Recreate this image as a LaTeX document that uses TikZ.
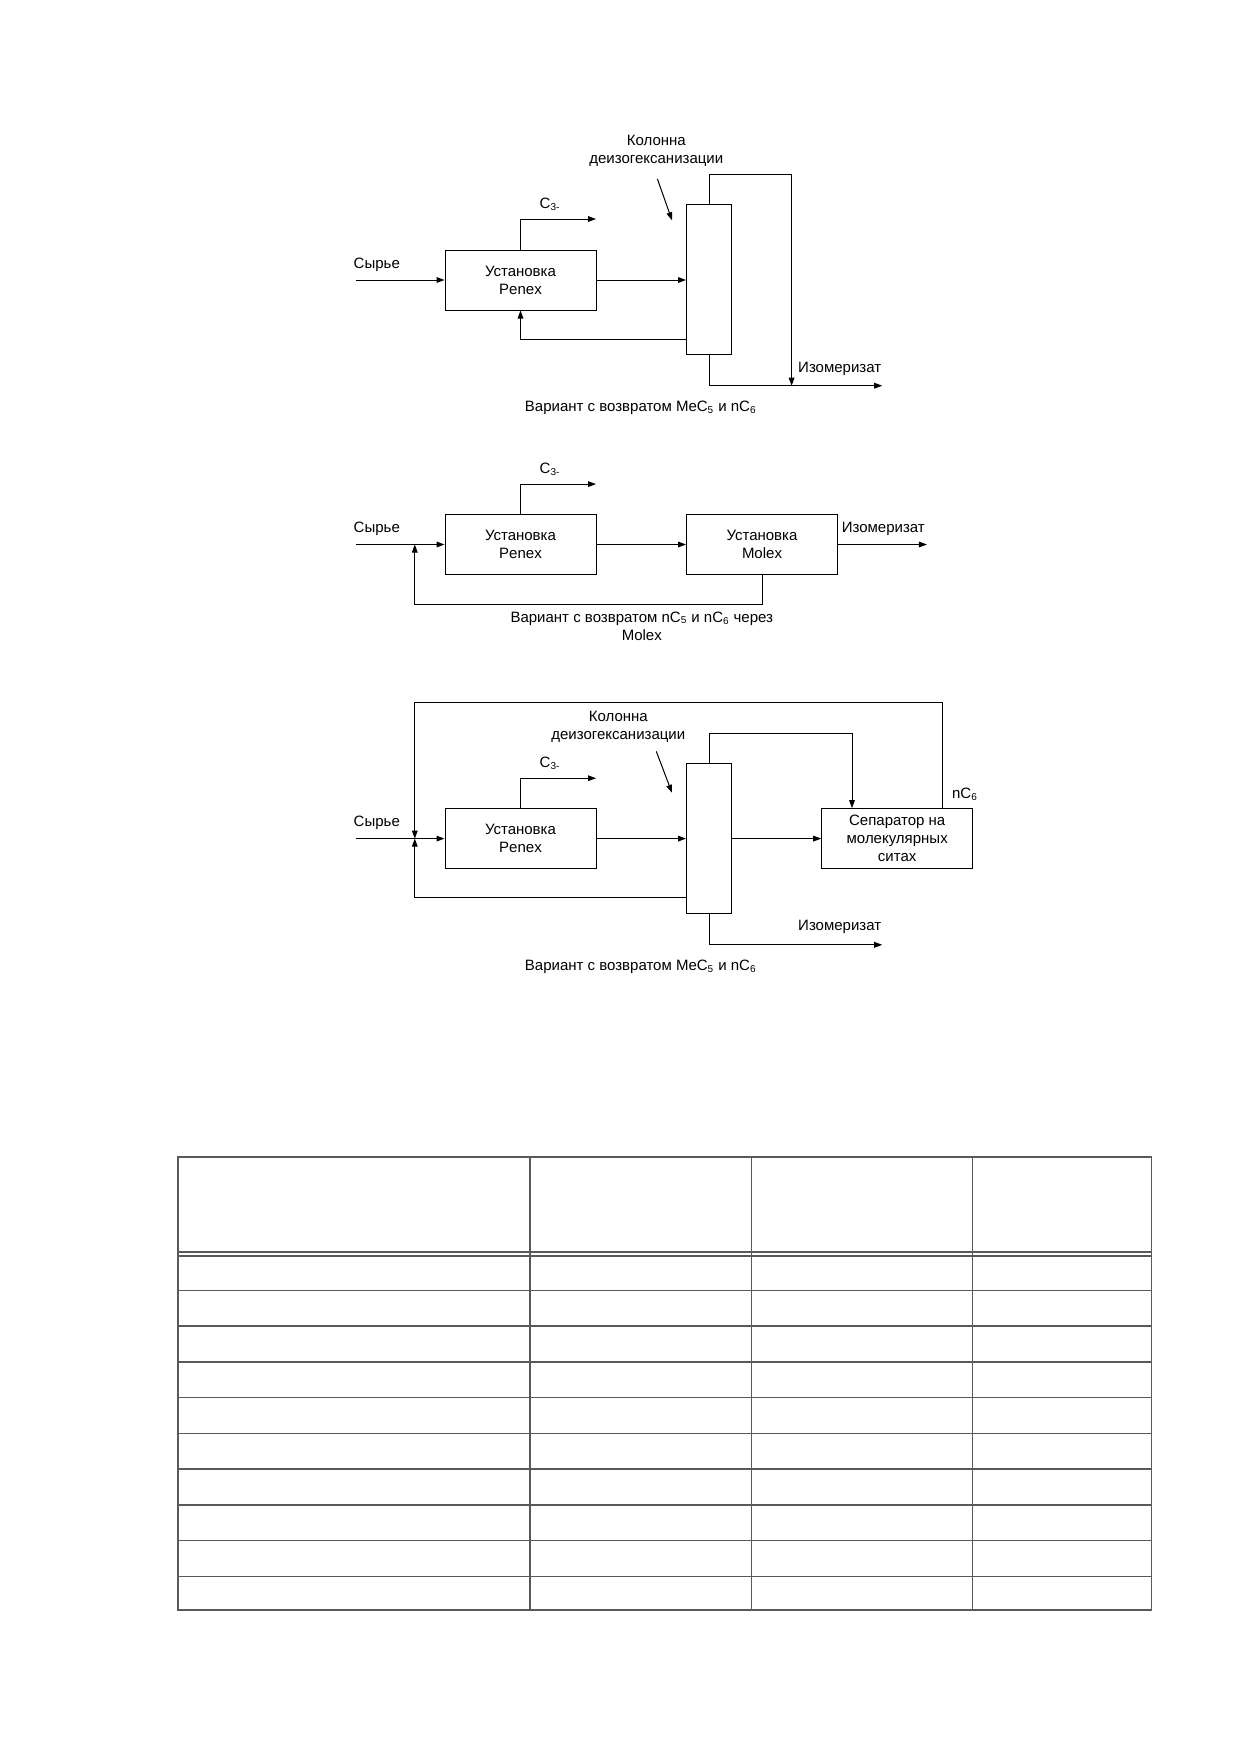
\documentclass[tikz,border=0pt]{standalone}
\usepackage{fontspec}
\setmainfont{Liberation Sans}
\usetikzlibrary{arrows.meta}
\begin{document}
\begin{tikzpicture}[x=0.6pt,y=-0.6pt,
  font=\fontsize{9}{10.7}\selectfont,
  ln/.style={line width=0.6pt},
  arr/.style={ln,-{Triangle[length=4.8pt,width=3.4pt]}},
  unit/.style={draw,ln,minimum width=90.6pt,minimum height=36pt,align=center,inner sep=0pt},
  col/.style={draw,ln,minimum width=27pt,minimum height=90pt,inner sep=0pt},
  lbl/.style={inner sep=0pt,align=center},
  tab/.style={line width=0.9pt,draw=black!65}]
\useasboundingbox (0,0) rectangle (1240,1754);
\fill[white] (0,0) rectangle (1240,1754);

% ---------- Diagram 1 ----------
\node[unit] (p1) at (520.5,280) {Установка\\Penex};
\node[col] (k1) at (709,279.5) {};
\coordinate (s1) at (355.6,280);
\node[lbl] (ls1) at (376.8,265) {Сырье};
\draw[arr] (s1) -- (p1.west);
\coordinate (c3a1) at (520.5,219);
\coordinate (c3b1) at (596,219);
\draw[arr] (p1.north) -- (c3a1) -- (c3b1);
\node[lbl] (lc1) at (550,204.6) {C\textsubscript{3-}};
\draw[arr] (p1.east) -- (p1.east -| k1.west);
\coordinate (r1) at (520.5,339.9);
\draw[arr] (k1.west |- r1) -- (r1) -- (p1.south);
\coordinate (t1a) at (709,174.4);
\coordinate (t1b) at (791.6,174.4);
\coordinate (j1) at (791.6,385.7);
\draw[arr] (k1.north) -- (t1a) -- (t1b) -- (j1);
\coordinate (b1a) at (709,385.7);
\coordinate (o1) at (882.2,385.7);
\draw[arr] (k1.south) -- (b1a) -- (o1);
\node[lbl] (li1) at (839.7,369) {Изомеризат};
\node[lbl] (lk1) at (656.3,151) {Колонна\\деизогексанизации};
\coordinate (pa1) at (657.4,178.9);
\coordinate (pb1) at (672,220.3);
\draw[arr] (pa1) -- (pb1);
\node[lbl] (cap1) at (640.7,408) {Вариант с возвратом MeC\textsubscript{5} и nC\textsubscript{6}};

% ---------- Diagram 2 ----------
\node[unit] (p2) at (520.5,544.5) {Установка\\Penex};
\node[unit] (m2) at (762,544.5) {Установка\\Molex};
\coordinate (s2) at (355.6,544.5);
\draw[arr] (s2) -- (p2.west);
\node[lbl] (ls2) at (376.8,528.9) {Сырье};
\coordinate (c3a2) at (520.5,484.1);
\coordinate (c3b2) at (596,484.1);
\draw[arr] (p2.north) -- (c3a2) -- (c3b2);
\node[lbl] (lc2) at (550,469.6) {C\textsubscript{3-}};
\draw[arr] (p2.east) -- (m2.west);
\coordinate (o2) at (926.9,544.5);
\draw[arr] (m2.east) -- (o2);
\node[lbl] (li2) at (883.3,528.9) {Изомеризат};
\coordinate (l2a) at (762,604.9);
\coordinate (l2b) at (414.8,604.9);
\coordinate (j2) at (414.8,544.5);
\draw[arr] (m2.south) -- (l2a) -- (l2b) -- (j2);
\node[lbl] (cap2) at (641.8,626) {Вариант с возвратом nC\textsubscript{5} и nC\textsubscript{6} через\\Molex};

% ---------- Diagram 3 ----------
\node[unit] (p3) at (520.5,838.6) {Установка\\Penex};
\node[col] (k3) at (709,838.6) {};
\node[unit] (sep3) at (897.2,838.6) {Сепаратор на\\молекулярных\\ситах};
\coordinate (s3) at (355.6,838.6);
\draw[arr] (s3) -- (p3.west);
\node[lbl] (ls3) at (376.8,822.9) {Сырье};
\coordinate (c3a3) at (520.5,778.2);
\coordinate (c3b3) at (596,778.2);
\draw[arr] (p3.north) -- (c3a3) -- (c3b3);
\node[lbl] (lc3) at (550,763.7) {C\textsubscript{3-}};
\draw[arr] (p3.east) -- (k3.west);
\draw[arr] (k3.east) -- (sep3.west);
\coordinate (t3a) at (709,733.5);
\coordinate (t3b) at (852,733.5);
\draw[arr] (k3.north) -- (t3a) -- (t3b) -- (t3b |- sep3.north);
\coordinate (n3a) at (942.6,702.2);
\coordinate (n3b) at (414.8,702.2);
\coordinate (j3) at (414.8,838.6);
\draw[arr] (sep3.north -| n3a) -- (n3a) -- (n3b) -- (j3);
\coordinate (r3) at (414.8,897.8);
\draw[arr] (k3.west |- r3) -- (r3) -- (j3);
\coordinate (b3a) at (709,944.8);
\coordinate (o3) at (882.2,944.8);
\draw[arr] (k3.south) -- (b3a) -- (o3);
\node[lbl] (li3) at (839.7,926.9) {Изомеризат};
\node[lbl] (ln3) at (964.9,793.9) {nC\textsubscript{6}};
\node[lbl] (lk3) at (618.3,726.7) {Колонна\\деизогексанизации};
\coordinate (pa3) at (656.3,751.4);
\coordinate (pb3) at (672,792.8);
\draw[arr] (pa3) -- (pb3);
\node[lbl] (cap3) at (640.7,967.2) {Вариант с возвратом MeC\textsubscript{5} и nC\textsubscript{6}};

% ---------- Table ----------
\draw[tab] (177.8,1157.2) rectangle (1151.6,1610.1);
\foreach \xx in {530,751.4,972.7}
  \draw[tab] (\xx,1157.2) -- (\xx,1610.1);
\foreach \yy in {1252.2,1255.8,1290.3,1326.1,1361.9,1397.6,1433.4,1469.2,1505.0,1540.7,1576.5}
  \draw[tab] (177.8,\yy) -- (1151.6,\yy);
\end{tikzpicture}
\end{document}
